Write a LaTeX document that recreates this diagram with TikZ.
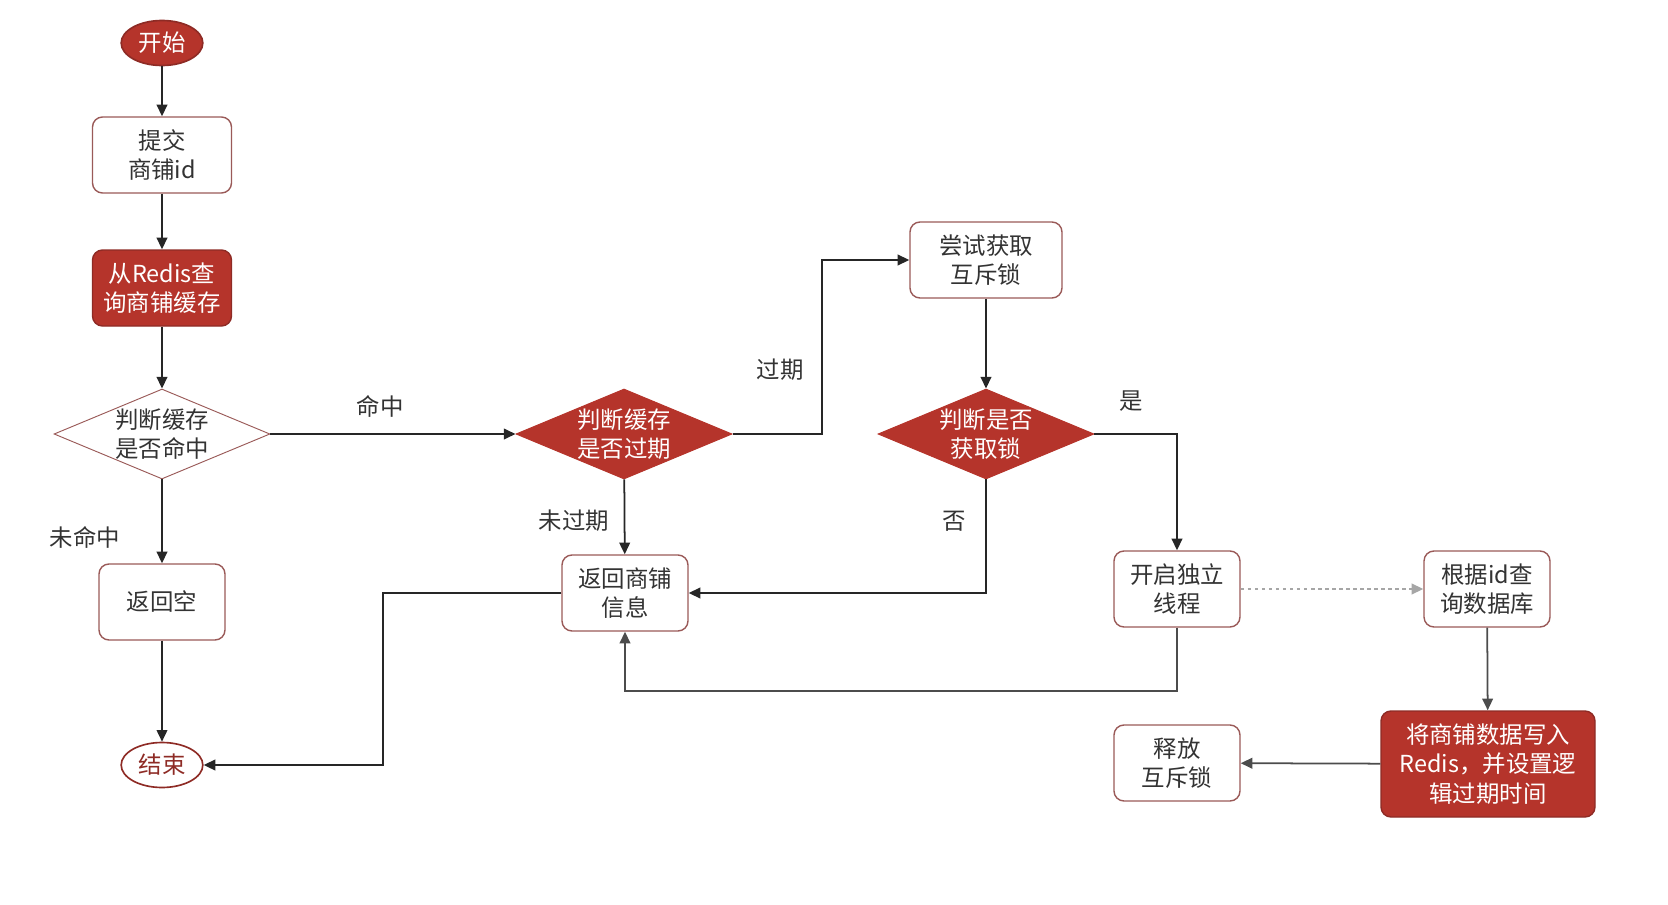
\documentclass[tikz,border=0pt]{standalone}
\usepackage{fontspec}
\setmainfont{Noto Sans CJK SC}
\usepackage{tikz}
\usetikzlibrary{arrows.meta,shapes.geometric}
\definecolor{redfill}{HTML}{B5342B}
\definecolor{redline}{HTML}{8E2B25}
\definecolor{boxline}{HTML}{9A5A58}
\definecolor{txt}{HTML}{333333}

\begin{document}
\begin{tikzpicture}[x=0.3mm,y=-0.3mm,
  font=\fontsize{20}{25}\selectfont,
  box/.style={draw=boxline,line width=1.2pt,rounded corners=3mm,fill=white,text=txt,minimum width=37.8mm,minimum height=22.8mm,align=center,inner sep=0pt},
  redbox/.style={box,draw=redline,fill=redfill,text=white},
  decide/.style={diamond,draw=boxline,line width=0.8pt,fill=white,text=txt,aspect=2.4,inner sep=0pt,align=center},
  reddecide/.style={decide,draw=redfill,fill=redfill,text=white},
  term/.style={ellipse,draw=redline,line width=1.4pt,minimum width=24.5mm,minimum height=13.5mm,inner sep=0pt},
  lbl/.style={text=txt},
  arr/.style={-{Triangle[length=3.5mm,width=3.2mm]},line width=1.5pt,black!85},
  garr/.style={arr,black!70},
  darr/.style={garr,dashed,black!35}]
  \useasboundingbox (0,0) rectangle (1668,905);
  % left column
  \node[term,fill=redfill,text=white] (start) at (162,43) {开始};
  \node[box,minimum width=41.7mm] (submit) at (162,155) {提交\\商铺id};
  \node[redbox,minimum width=41.7mm] (query) at (162,288) {从Redis查\\询商铺缓存};
  \node[decide] (hit) at (162,434) {判断缓存\\是否命中};
  \node[box] (empty) at (162,602) {返回空};
  \node[term,fill=white,text=redline] (end) at (162,765) {结束};
  % middle
  \node[reddecide] (expire) at (624,434) {判断缓存\\是否过期};
  \node[box] (info) at (625,593) {返回商铺\\信息};
  \node[box,minimum width=45.6mm] (trylock) at (986,260) {尝试获取\\互斥锁};
  \node[reddecide] (lock) at (986,434) {判断是否\\获取锁};
  % right
  \node[box] (thread) at (1177,589) {开启独立\\线程};
  \node[box] (db) at (1487,589) {根据id查\\询数据库};
  \node[redbox,minimum width=64.2mm,minimum height=31.8mm] (write) at (1488,764) {将商铺数据写入\\Redis，并设置逻\\辑过期时间};
  \node[box] (release) at (1177,763) {释放\\互斥锁};
  % labels
  \node[lbl] (lblHit) at (380,406) {命中};
  \node[lbl] (lblMiss) at (85,537) {未命中};
  \node[lbl] (lblExp) at (780,370) {过期};
  \node[lbl] (lblFresh) at (574,521) {未过期};
  \node[lbl] (lblYes) at (1131,401) {是};
  \node[lbl] (lblNo) at (954,521) {否};
  % connectors
  \draw[arr] (start)--(submit); \draw[arr] (submit)--(query); \draw[arr] (query)--(hit);
  \draw[arr] (hit)--(empty); \draw[arr] (empty)--(end);
  \draw[arr] (hit)--(expire); \draw[arr] (expire)--(info);
  \draw[arr] (expire.east)--(822,434) |- (trylock.west);
  \draw[arr] (trylock)--(lock);
  \draw[arr] (lock.east) -| (thread.north);
  \draw[arr] (lock.south) |- (info.east);
  \draw[arr] (info.west)--(383,593) |- (end.east);
  \draw[garr] (thread.south)--(1177,691) -| (info.south);
  \draw[darr] (thread)--(db);
  \draw[garr] (db)--(write);
  \draw[garr] (write)--(release);
\end{tikzpicture}
\end{document}
